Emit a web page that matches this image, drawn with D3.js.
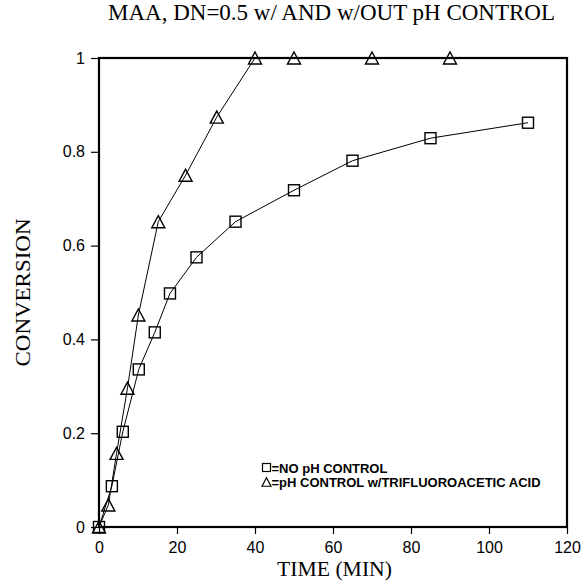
<!DOCTYPE html>
<html><head><meta charset="utf-8">
<script src="https://cdn.jsdelivr.net/npm/d3@7"></script>
<style>body{margin:0;background:#fff}</style>
</head><body>
<svg id="c" width="582" height="582"></svg>
<script>
const titleText = "MAA, DN=0.5 w/ AND w/OUT pH CONTROL";
const xLabel = "TIME (MIN)";
const yLabel = "CONVERSION";
const xTicks = [0, 20, 40, 60, 80, 100, 120];
const yTicks = [0, 0.2, 0.4, 0.6, 0.8, 1];
const legendLabels = ["=NO pH CONTROL", "=pH CONTROL w/TRIFLUOROACETIC ACID"];
// Series 1: squares, no pH control
const sqTime = [0, 3.3, 6.1, 10.2, 14.3, 18.2, 25, 35, 50, 65, 85, 110];
const sqConv = [0, 0.087, 0.203, 0.336, 0.415, 0.498, 0.575, 0.651, 0.718, 0.781, 0.829, 0.862];
// Series 2: triangles, pH control w/ TFA
const triTime = [0, 2.4, 4.5, 7.3, 10.1, 15.2, 22.2, 30.2, 40, 50, 70, 90];
const triConv = [0, 0.047, 0.157, 0.296, 0.452, 0.651, 0.75, 0.874, 1, 1, 1, 1];

const svg = d3.select("#c");
const L = 99, R = 567, T = 58, B = 527;
const x = d3.scaleLinear().domain([0, 120]).range([L, R]);
const y = d3.scaleLinear().domain([0, 1]).range([B, T]);
const serif = "Liberation Serif, Times New Roman, serif";
const sans = "Liberation Sans, Arial, sans-serif";

// axes
const xAxis = d3.axisBottom(x).tickValues(xTicks).tickSize(7).tickPadding(8).tickFormat(d3.format("d"));
const yAxis = d3.axisLeft(y).tickValues(yTicks).tickSize(8).tickPadding(6).tickFormat(d => d === 0 || d === 1 ? String(d) : d.toFixed(1));
const gx = svg.append("g").attr("transform", `translate(0,${B})`).call(xAxis);
const gy = svg.append("g").attr("transform", `translate(${L},0)`).call(yAxis);
[gx, gy].forEach(g => {
  g.select(".domain").remove();
  g.selectAll("line").attr("stroke", "#000").attr("stroke-width", 1.2);
  g.selectAll("text").attr("font-family", sans).attr("font-size", 16).attr("fill", "#000");
});
// frame
svg.append("rect").attr("x", L).attr("y", T).attr("width", R - L).attr("height", B - T)
  .attr("fill", "none").attr("stroke", "#000").attr("stroke-width", 2.2);

// lines
const line = d3.line().x(d => x(d[0])).y(d => y(d[1]));
const sqData = sqTime.map((t, i) => [t, sqConv[i]]);
const triData = triTime.map((t, i) => [t, triConv[i]]);
svg.append("path").attr("d", line(sqData)).attr("fill", "none").attr("stroke", "#000").attr("stroke-width", 1);
svg.append("path").attr("d", line(triData)).attr("fill", "none").attr("stroke", "#000").attr("stroke-width", 1);

// markers
const sq = 11;
function triPath(cx, cy, w, h) {
  return `M${cx},${cy - h / 2}L${cx + w / 2},${cy + h / 2}L${cx - w / 2},${cy + h / 2}Z`;
}
svg.append("g").selectAll("rect").data(sqData).join("rect")
  .attr("x", d => x(d[0]) - sq / 2).attr("y", d => y(d[1]) - sq / 2)
  .attr("width", sq).attr("height", sq)
  .attr("fill", "none").attr("stroke", "#000").attr("stroke-width", 1.4);
svg.append("g").selectAll("path").data(triData).join("path")
  .attr("d", d => triPath(x(d[0]), y(d[1]), 13, 12))
  .attr("fill", "none").attr("stroke", "#000").attr("stroke-width", 1.4);

// title & labels
svg.append("text").attr("x", 331.5).attr("y", 20).attr("text-anchor", "middle")
  .attr("font-family", serif).attr("font-size", 23)
  .attr("textLength", 447).attr("lengthAdjust", "spacingAndGlyphs").text(titleText);
svg.append("text").attr("x", 334.5).attr("y", 576).attr("text-anchor", "middle")
  .attr("font-family", serif).attr("font-size", 22)
  .attr("textLength", 115).attr("lengthAdjust", "spacingAndGlyphs").text(xLabel);
svg.append("text").attr("transform", `translate(30,${(T + B) / 2}) rotate(-90)`).attr("text-anchor", "middle")
  .attr("font-family", serif).attr("font-size", 22)
  .attr("textLength", 148).attr("lengthAdjust", "spacingAndGlyphs").text(yLabel);

// legend
const lg = svg.append("g");
const lx = 262;
lg.append("rect").attr("x", lx + 0.5).attr("y", 463.5).attr("width", 8).attr("height", 8)
  .attr("fill", "none").attr("stroke", "#000").attr("stroke-width", 1.2);
lg.append("path").attr("d", triPath(lx + 4.5, 482, 9, 8.5))
  .attr("fill", "none").attr("stroke", "#000").attr("stroke-width", 1.2);
lg.append("text").attr("x", lx + 9.5).attr("y", 472.5).attr("font-family", sans)
  .attr("font-weight", "bold").attr("font-size", 13).text(legendLabels[0]);
lg.append("text").attr("x", lx + 9.5).attr("y", 486.5).attr("font-family", sans)
  .attr("font-weight", "bold").attr("font-size", 13).text(legendLabels[1]);
</script>
</body></html>
